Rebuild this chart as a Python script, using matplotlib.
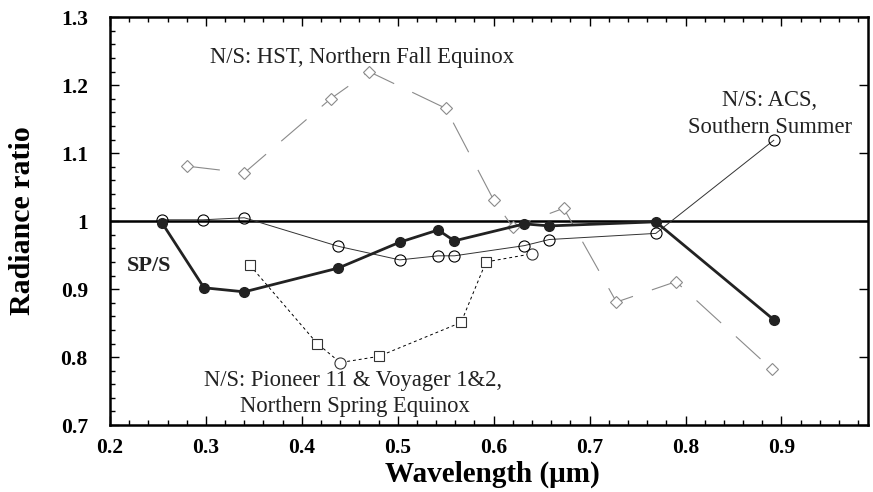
import matplotlib
matplotlib.use('Agg')
import matplotlib.pyplot as plt
from matplotlib.ticker import MultipleLocator

plt.rcParams['font.family'] = ['Liberation Serif', 'DejaVu Serif']

# SP/S (filled circles, thick line)
sp_x = [0.254, 0.298, 0.340, 0.438, 0.502, 0.542, 0.559, 0.632, 0.658, 0.769, 0.892]
sp_y = [0.998, 0.902, 0.896, 0.931, 0.969, 0.987, 0.971, 0.996, 0.993, 0.999, 0.855]

# N/S: ACS, Southern Summer (open circles)
acs_x = [0.254, 0.297, 0.340, 0.438, 0.502, 0.542, 0.559, 0.632, 0.658, 0.769, 0.892]
acs_y = [1.002, 1.002, 1.005, 0.963, 0.943, 0.949, 0.949, 0.964, 0.973, 0.982, 1.119]

# N/S: Pioneer 11 & Voyager 1&2 (dotted)
pv_x = [0.346, 0.416, 0.440, 0.480, 0.566, 0.592, 0.640]
pv_y = [0.935, 0.820, 0.792, 0.801, 0.851, 0.940, 0.952]
pv_marker = ['s', 's', 'o', 's', 's', 's', 'o']

# N/S: HST, Northern Fall Equinox (gray dashed, diamonds)
hst_x = [0.280, 0.340, 0.430, 0.470, 0.550, 0.600, 0.620, 0.673, 0.728, 0.790, 0.890]
hst_y = [1.081, 1.071, 1.180, 1.220, 1.166, 1.031, 0.991, 1.019, 0.881, 0.911, 0.782]

xtick_vals = [0.2, 0.3, 0.4, 0.5, 0.6, 0.7, 0.8, 0.9]
xtick_labels = ['0.2', '0.3', '0.4', '0.5', '0.6', '0.7', '0.8', '0.9']
ytick_vals = [0.7, 0.8, 0.9, 1.0, 1.1, 1.2, 1.3]
ytick_labels = ['0.7', '0.8', '0.9', '1', '1.1', '1.2', '1.3']

fig = plt.figure(figsize=(8.73, 4.92), dpi=100)
ax = fig.add_axes([0.126, 0.136, 0.868, 0.829])

ax.axhline(1.0, color='black', lw=1.8, zorder=2)

# HST
ax.plot(hst_x, hst_y, color='#8a8a8a', lw=0.8, linestyle=(0, (30, 18)),
        marker='D', ms=6.5, mfc='white', mec='#8a8a8a', mew=0.8, zorder=3)

# Pioneer / Voyager
ax.plot(pv_x, pv_y, color='black', lw=0.7, linestyle=(0, (3, 3)), zorder=3)
for x, y, m in zip(pv_x, pv_y, pv_marker):
    ax.plot(x, y, marker=m, ms=6.5 if m == 's' else 8, mfc='white',
            mec='#333333', mew=0.8, linestyle='none', zorder=4)

# ACS
ax.plot(acs_x, acs_y, color='#333333', lw=0.7, marker='o', ms=8,
        mfc='none', mec='black', mew=0.8, zorder=4)

# SP/S
ax.plot(sp_x, sp_y, color='#222222', lw=2.0, marker='o', ms=7,
        mfc='#222222', mec='#222222', zorder=5)

ax.set_xlim(0.2, 0.99)
ax.set_ylim(0.7, 1.3)
ax.xaxis.set_minor_locator(MultipleLocator(0.02))
ax.yaxis.set_minor_locator(MultipleLocator(0.02))
ax.set_xticks(xtick_vals)
ax.set_xticklabels(xtick_labels)
ax.set_yticks(ytick_vals)
ax.set_yticklabels(ytick_labels)

ax.tick_params(which='both', direction='in', top=True, right=True, width=1.0)
ax.tick_params(which='major', length=6.5)
ax.tick_params(which='minor', length=3.6, right=False)
ax.tick_params(axis='x', which='major', pad=9)
ax.tick_params(axis='y', which='major', pad=16)
for lab in ax.get_xticklabels() + ax.get_yticklabels():
    lab.set_fontweight('bold')
    lab.set_fontsize(15.5)
for sp in ax.spines.values():
    sp.set_linewidth(1.8)

fig.text(492 / 873, 1 - 482 / 492, 'Wavelength (μm)', fontsize=21,
         fontweight='bold', ha='center', va='baseline')
fig.text(23 / 873, 1 - 221 / 492, 'Radiance ratio', rotation=90, fontsize=21.5,
         fontweight='bold', ha='center', va='center')

txt = '#222222'
ax.text(0.4625, 1.2327, 'N/S: HST, Northern Fall Equinox', fontsize=16.3,
        color=txt, ha='center', va='baseline')
ax.text(0.888, 1.1697, 'N/S: ACS,', fontsize=16.3, color=txt,
        ha='center', va='baseline')
ax.text(0.888, 1.1302, 'Southern Summer', fontsize=16.3, color=txt,
        ha='center', va='baseline')
ax.text(0.2177, 0.9268, 'SP/S', fontsize=16, fontweight='bold', color='#222222',
        ha='left', va='baseline')
ax.text(0.4536, 0.757, 'N/S: Pioneer 11 & Voyager 1&2,', fontsize=16.3,
        color=txt, ha='center', va='baseline')
ax.text(0.4557, 0.719, 'Northern Spring Equinox', fontsize=16.3, color=txt,
        ha='center', va='baseline')

fig.savefig('out.png', dpi=100)
